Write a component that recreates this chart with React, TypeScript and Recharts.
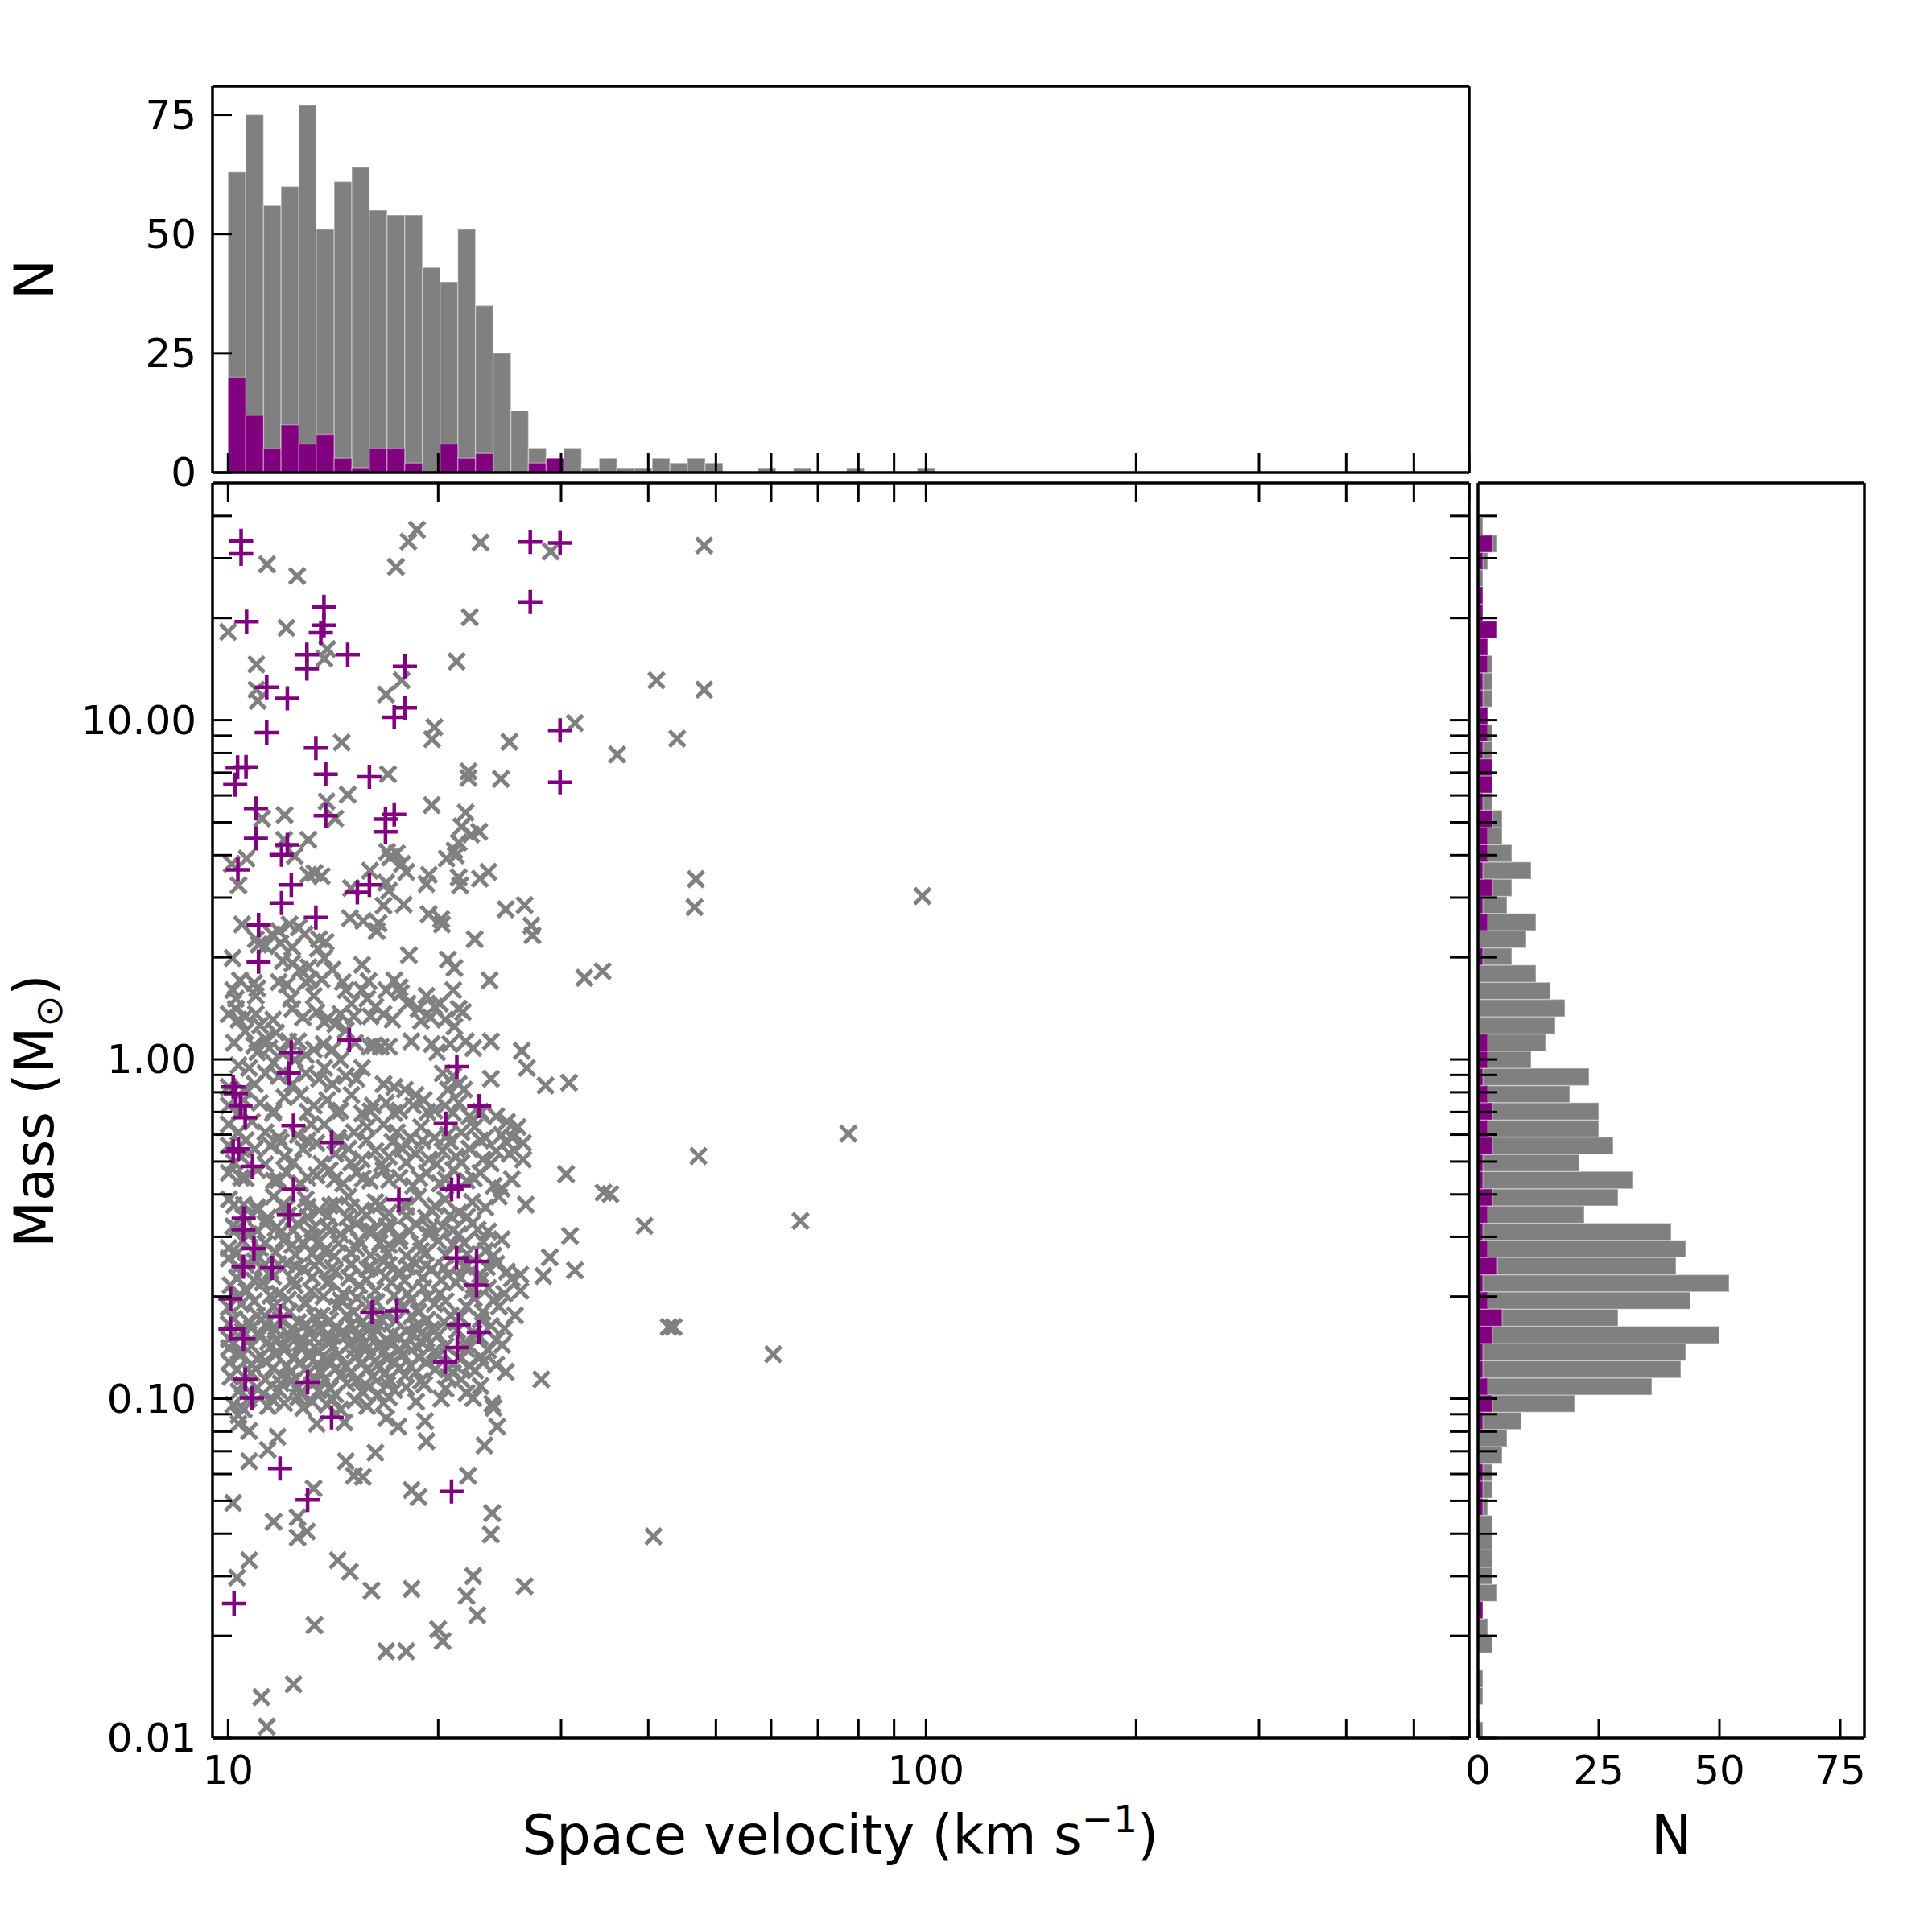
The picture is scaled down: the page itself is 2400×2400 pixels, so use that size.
import React from "react";
import { ScatterChart, Scatter, ComposedChart, ReferenceArea, XAxis, YAxis } from "recharts";

const GRAY = "#808080";
const PURPLE = "#800080";
const FONT = "'DejaVu Sans', Verdana, sans-serif";
const TICK_LEN = 24;
const TICK_W = 3;
const TICK_FS = 50;
const LABEL_FS = 67;
const axisStyle = { stroke: "#000", strokeWidth: 3.5 };

// panel boxes on the 2400x2400 page
const MAIN = { left: 264, right: 1825, top: 600, bottom: 2159 };
const TOP = { left: 264, right: 1825, top: 107, bottom: 587 };
const SIDE = { left: 1836, right: 2316, top: 600, bottom: 2159 };
// every axis takes 1px, so take it back from the margin
const margin = (b: any) => ({ left: b.left - 1, right: 2400 - b.right - 1, top: b.top - 1, bottom: 2400 - b.bottom - 1 });

// axes
const velDomain = [9.5, 600];
const massDomain = [0.01, 50];
const velTicks = [10, 20, 30, 40, 50, 60, 70, 80, 90, 100, 200, 300, 400, 500, 600];
const massTicks = [
  0.01, 0.02, 0.03, 0.04, 0.05, 0.06, 0.07, 0.08, 0.09,
  0.1, 0.2, 0.3, 0.4, 0.5, 0.6, 0.7, 0.8, 0.9,
  1, 2, 3, 4, 5, 6, 7, 8, 9, 10, 20, 30, 40,
];
const countTicks = [0, 25, 50, 75];
const velLabels: Record<string, string> = { "10": "10", "100": "100" };
const massLabels: Record<string, string> = { "0.01": "0.01", "0.1": "0.10", "1": "1.00", "10": "10.00" };
const countLabels: Record<string, string> = { "0": "0", "25": "25", "50": "50", "75": "75" };

// velocity histogram (top)
const velEdges = [
  10.0, 10.6, 11.24, 11.91, 12.63, 13.38, 14.19, 15.04, 15.94, 16.9, 17.91, 18.99, 20.13, 21.34,
  22.62, 23.98, 25.42, 26.94, 28.56, 30.27, 32.09, 34.02, 36.06, 38.22, 40.52, 42.95, 45.53,
  48.26, 51.16, 54.23, 57.48, 60.93, 64.59, 68.47, 72.58, 76.94, 81.55, 86.45, 91.64, 97.14, 102.97,
];
const velCountAll = [
  63, 75, 56, 60, 77, 51, 61, 64, 55, 54, 54, 43, 40, 51, 35, 25, 13, 5, 3, 5,
  1, 3, 1, 1, 3, 2, 3, 2, 0, 0, 1, 0, 1, 0, 0, 1, 0, 0, 0, 1,
];
const velCountSub = [
  20, 12, 5, 10, 6, 8, 3, 1, 5, 5, 2, 0, 6, 3, 4, 0, 0, 2, 3, 0,
  0, 0, 0, 0, 0, 0, 0, 0, 0, 0, 0, 0, 0, 0, 0, 0, 0, 0, 0, 0,
];

// mass histogram (right), bins from low to high mass
const massEdges = [
  0.00993, 0.01116, 0.01254, 0.01409, 0.01584, 0.0178, 0.02, 0.02248, 0.02526, 0.02838, 0.0319,
  0.03584, 0.04028, 0.04529, 0.05087, 0.05718, 0.06427, 0.07222, 0.08116, 0.09124, 0.1025,
  0.1152, 0.1295, 0.1455, 0.1635, 0.1837, 0.2065, 0.232, 0.2608, 0.2931, 0.3293, 0.3701,
  0.4159, 0.4675, 0.5253, 0.5903, 0.6634, 0.7455, 0.8379, 0.9417, 1.058, 1.189, 1.337, 1.502,
  1.688, 1.897, 2.132, 2.396, 2.692, 3.026, 3.4, 3.821, 4.295, 4.826, 5.424, 6.095, 6.849,
  7.697, 8.65, 9.721, 10.93, 12.28, 13.8, 15.51, 17.42, 19.58, 22.0, 24.73, 27.79, 31.23,
  35.1, 39.45,
];
const massCountAll = [
  1, 0, 1, 1, 0, 3, 2, 1, 4, 3, 3, 3, 3, 2, 3, 3, 5, 6, 9, 20, 36, 42, 43, 50, 29, 44, 52, 41,
  43, 40, 22, 29, 32, 21, 28, 25, 25, 19, 23, 11, 14, 16, 18, 15, 12, 7, 10, 12, 6, 7, 11, 7,
  5, 5, 3, 3, 3, 3, 3, 2, 3, 3, 3, 2, 4, 1, 1, 1, 2, 4, 1,
];
const massCountSub = [
  0, 0, 0, 0, 0, 0, 0, 1, 0, 0, 0, 0, 0, 1, 1, 1, 0, 0, 1, 3, 2, 1, 1, 3, 5, 2, 1, 4,
  2, 1, 2, 3, 1, 1, 3, 2, 3, 2, 1, 2, 2, 0, 0, 0, 0, 1, 0, 2, 1, 3, 1, 2, 2, 3, 1, 3,
  3, 1, 2, 2, 1, 1, 2, 2, 4, 1, 1, 0, 1, 3, 0,
];

// scatter: [velocity km/s, mass Msun]
const grayHigh = [
  [18.65, 36.4], [18.13, 33.6], [23.0, 33.4], [29.0, 31.4], [11.37, 28.8], [12.56, 26.6], [17.4, 28.3],
  [22.2, 20.1], [10.0, 18.2], [12.12, 18.7], [13.87, 16.2], [13.74, 15.2], [21.25, 14.9], [10.98, 14.6],
  [17.73, 13.1], [16.84, 11.9], [10.98, 12.3], [11.03, 11.4], [19.75, 9.54], [19.6, 8.79], [31.4, 9.8],
  [14.55, 8.6], [25.3, 8.63], [36.1, 7.92], [16.95, 6.93], [22.1, 7.06], [22.1, 6.75], [24.6, 6.71],
  [14.84, 6.03], [13.84, 5.76], [14.24, 5.13], [11.19, 5.13], [12.05, 5.25], [19.58, 5.62], [21.9, 5.34],
  [21.6, 4.86], [22.9, 4.69], [22.3, 4.6], [13.03, 4.44], [12.03, 4.44], [12.46, 3.98], [10.63, 3.91],
  [10.12, 3.77], [10.35, 3.26], [16.9, 4.09], [17.45, 4.05], [17.07, 3.94], [21.4, 4.36], [21.1, 4.13],
  [20.56, 3.91], [21.2, 3.99], [18.0, 3.57], [17.75, 3.77], [15.97, 3.6], [13.03, 3.5], [13.62, 3.47],
  [13.3, 3.54], [19.4, 3.5], [19.24, 3.29], [21.4, 3.44], [21.5, 3.26], [22.95, 3.41], [23.6, 3.57],
  [16.85, 3.32], [17.0, 3.14], [15.0, 3.2],
  [16.7, 2.84], [17.85, 2.86], [24.99, 2.77], [26.6, 2.85], [14.95, 2.61], [15.62, 2.56], [16.43, 2.52],
  [16.33, 2.39], [19.38, 2.68], [20.2, 2.59], [20.25, 2.5], [27.2, 2.48], [27.3, 2.32], [22.56, 2.26],
  [10.47, 2.5], [10.96, 2.26], [11.56, 2.34], [11.82, 2.39], [12.25, 2.5], [12.63, 2.45], [12.87, 2.34],
  [13.5, 2.26], [13.8, 2.22], [13.45, 2.12], [12.36, 2.14], [11.88, 2.2], [11.31, 2.16], [10.15, 1.99],
  [11.06, 2.18], [15.56, 1.9], [18.16, 2.03], [20.65, 1.97], [21.1, 1.86], [23.7, 1.71], [32.4, 1.74],
  [34.4, 1.82], [11.98, 1.95], [12.36, 1.92], [12.69, 1.84], [13.04, 1.87], [13.74, 1.99], [14.11, 1.84],
  [13.62, 1.72], [11.82, 1.69], [12.14, 1.66], [12.92, 1.69], [17.3, 1.71], [17.61, 1.63],
];

const grayCore = [
  [10.17, 1.6], [10.26, 1.51], [10.96, 1.54], [11.01, 1.62], [10.02, 1.36], [10.26, 1.41], [10.35, 1.31],
  [10.58, 1.21], [10.96, 1.36], [11.11, 1.26], [12.3, 1.51], [12.36, 1.41], [13.27, 1.54], [13.39, 1.38],
  [13.74, 1.29], [14.24, 1.27], [14.75, 1.6], [15.02, 1.46], [15.56, 1.6], [15.83, 1.51], [16.26, 1.43],
  [16.7, 1.36], [16.85, 1.6], [17.69, 1.57], [18.08, 1.46], [18.74, 1.41], [18.9, 1.3], [19.24, 1.54],
  [19.76, 1.43], [20.11, 1.46], [20.47, 1.31], [21.02, 1.6], [21.4, 1.41], [21.7, 1.38], [21.1, 1.25],
  [14.49, 1.36], [14.75, 1.22], [15.15, 1.34],
  [11.72, 1.2], [11.31, 1.15], [11.01, 1.05], [11.46, 1.08], [11.93, 1.05], [12.2, 1.13], [10.35, 0.961],
  [10.72, 0.943], [11.62, 0.978], [11.31, 0.91], [12.47, 0.996], [12.92, 1.03], [13.27, 1.07], [13.74, 0.943],
  [14.11, 1.07], [14.49, 0.996], [15.56, 0.943], [15.97, 1.09], [16.55, 1.09], [17.0, 1.09], [19.58, 1.11],
  [19.93, 1.05], [21.9, 1.13], [22.45, 1.08], [23.8, 1.13], [26.35, 1.06], [26.8, 0.943], [28.5, 0.838],
  [30.8, 0.854], [23.8, 0.877], [20.29, 0.91], [21.02, 0.893], [16.7, 0.846], [17.3, 0.83], [17.92, 0.815],
  [18.57, 0.786], [20.65, 0.815], [21.4, 0.846], [21.78, 0.815], [15.28, 0.877], [14.75, 0.893], [14.11, 0.846],
  [13.5, 0.877], [12.92, 0.91], [12.36, 0.846], [11.82, 0.893], [10.92, 0.846], [10.53, 0.815], [10.02, 0.83],
  [10.02, 0.731], [10.53, 0.759], [11.11, 0.745], [11.62, 0.706], [12.04, 0.773], [12.69, 0.786], [13.27, 0.731],
  [13.87, 0.759], [14.49, 0.706], [15.02, 0.786], [15.56, 0.693], [16.12, 0.731], [16.85, 0.745], [17.61, 0.706],
  [18.41, 0.731], [19.07, 0.759], [19.76, 0.706], [20.47, 0.731], [21.4, 0.745], [22.17, 0.68], [22.97, 0.693],
  [24.22, 0.68], [25.1, 0.655], [26.0, 0.632], [10.02, 0.644], [10.35, 0.61], [10.82, 0.655], [11.31, 0.61],
  [11.82, 0.588], [12.58, 0.599], [13.15, 0.644], [13.74, 0.644], [14.37, 0.588], [15.15, 0.61], [15.83, 0.632],
  [16.7, 0.644], [17.45, 0.61], [18.24, 0.588], [18.9, 0.632], [19.76, 0.588], [20.65, 0.599], [21.59, 0.61],
  [22.56, 0.632], [23.38, 0.588], [24.66, 0.599], [25.55, 0.588], [26.47, 0.567],
  [10.02, 0.557], [10.44, 0.517], [10.92, 0.545], [11.51, 0.557], [12.04, 0.517], [12.81, 0.545], [13.39, 0.567],
  [14.24, 0.527], [14.88, 0.546], [15.56, 0.507], [16.26, 0.537], [17.0, 0.517], [17.77, 0.546], [18.57, 0.527],
  [19.41, 0.507], [20.29, 0.537], [21.21, 0.517], [22.17, 0.546], [23.17, 0.507], [24.22, 0.537], [25.32, 0.527],
  [26.47, 0.507], [30.5, 0.459], [35.3, 0.401], [34.5, 0.405], [26.7, 0.373], [10.02, 0.463], [10.44, 0.448],
  [11.01, 0.472], [11.62, 0.439], [12.14, 0.463], [12.69, 0.431], [13.39, 0.455], [13.99, 0.472], [14.62, 0.431],
  [15.28, 0.463], [15.97, 0.439], [16.7, 0.472], [17.61, 0.448], [18.41, 0.424], [19.24, 0.463], [20.11, 0.431],
  [21.02, 0.472], [21.97, 0.439], [22.97, 0.463], [24.01, 0.424], [24.66, 0.416],
  [10.03, 0.387], [10.53, 0.373], [11.01, 0.359], [11.62, 0.394], [12.14, 0.366], [12.92, 0.387], [13.5, 0.359],
  [14.24, 0.373], [14.88, 0.394], [15.56, 0.359], [16.26, 0.38], [17.0, 0.353], [17.92, 0.373], [18.74, 0.394],
  [19.58, 0.359], [20.47, 0.387], [21.4, 0.353], [22.37, 0.38], [23.38, 0.366], [24.44, 0.394], [10.17, 0.322],
  [10.72, 0.305], [11.31, 0.328], [11.93, 0.311], [12.58, 0.328], [13.15, 0.3], [13.87, 0.322], [14.49, 0.305],
  [15.28, 0.328], [16.12, 0.311], [16.85, 0.322], [17.61, 0.3], [18.57, 0.328], [19.41, 0.305], [20.29, 0.322],
  [21.4, 0.305], [22.37, 0.328], [23.59, 0.311], [24.66, 0.295], [30.9, 0.302], [10.02, 0.278], [11.11, 0.278],
  [12.36, 0.284], [13.74, 0.273], [15.28, 0.278], [17.0, 0.284], [18.9, 0.273], [21.02, 0.284], [23.38, 0.273],
  [28.9, 0.261],
  [10.02, 0.259], [10.35, 0.245], [10.92, 0.254], [11.51, 0.237], [12.14, 0.25], [12.81, 0.241], [13.5, 0.254],
  [14.24, 0.237], [15.02, 0.25], [15.83, 0.241], [16.7, 0.254], [17.61, 0.237], [18.57, 0.25], [19.58, 0.241],
  [20.65, 0.232], [21.78, 0.245], [22.97, 0.232], [24.22, 0.25], [25.1, 0.237], [26.23, 0.232], [28.3, 0.23],
  [31.4, 0.239], [10.08, 0.216], [10.63, 0.208], [11.21, 0.22], [11.82, 0.204], [12.47, 0.216], [13.15, 0.208],
  [13.87, 0.22], [14.62, 0.204], [15.42, 0.216], [16.26, 0.208], [17.15, 0.22], [18.08, 0.204], [19.07, 0.212],
  [20.11, 0.204], [21.21, 0.22], [22.37, 0.208], [23.59, 0.212], [24.88, 0.204], [26.23, 0.208], [10.02, 0.186],
  [10.44, 0.19], [11.01, 0.176], [11.62, 0.187], [12.25, 0.18], [12.92, 0.19], [13.62, 0.176], [14.37, 0.187],
  [15.15, 0.18], [15.97, 0.19], [16.85, 0.176], [17.77, 0.187], [18.74, 0.18], [19.76, 0.19], [20.84, 0.176],
  [21.97, 0.187], [23.17, 0.18], [24.44, 0.187], [25.77, 0.176],
];

// the crowded core, read between the rows above
const grayCoreFill = [
  [10.3, 0.199], [10.9, 0.194], [11.5, 0.201], [12.2, 0.196], [12.9, 0.192], [13.7, 0.2], [14.5, 0.195],
  [15.3, 0.198], [16.3, 0.193], [17.3, 0.201], [18.3, 0.196], [19.3, 0.199], [20.5, 0.194], [22.5, 0.198],
  [24.0, 0.195],
  [10.2, 0.172], [10.7, 0.169], [11.3, 0.175], [11.9, 0.171], [12.6, 0.168], [13.3, 0.174], [14.0, 0.17],
  [14.8, 0.176], [15.6, 0.169], [16.5, 0.173], [17.4, 0.17], [18.3, 0.175], [19.3, 0.171], [20.4, 0.168],
  [21.5, 0.174], [23.0, 0.171],
  [10.5, 0.158], [11.0, 0.155], [11.7, 0.159], [12.5, 0.156], [13.1, 0.16], [13.9, 0.155], [14.6, 0.158],
  [15.4, 0.156], [16.3, 0.16], [17.2, 0.155], [18.0, 0.158], [19.0, 0.157], [20.0, 0.154], [21.3, 0.159],
  [22.5, 0.156],
  [10.2, 0.146], [10.8, 0.143], [11.4, 0.147], [12.0, 0.144], [12.7, 0.146], [13.3, 0.142], [14.0, 0.147],
  [14.9, 0.144], [15.7, 0.146], [16.4, 0.143], [17.0, 0.147], [18.0, 0.144], [19.0, 0.146], [20.5, 0.143],
  [22.0, 0.145], [24.7, 0.144],
  [10.4, 0.134], [11.0, 0.131], [11.7, 0.135], [12.4, 0.132], [13.1, 0.134], [13.8, 0.13], [14.4, 0.135],
  [15.2, 0.132], [16.0, 0.134], [16.9, 0.131], [17.8, 0.135], [18.8, 0.132], [20.0, 0.134], [21.5, 0.131],
  [23.0, 0.133],
  [10.3, 0.122], [10.8, 0.119], [11.6, 0.123], [12.3, 0.12], [12.9, 0.122], [13.6, 0.119], [14.3, 0.123],
  [15.0, 0.12], [15.8, 0.122], [16.8, 0.119], [17.6, 0.123], [18.6, 0.12], [19.8, 0.122], [21.0, 0.119],
  [22.6, 0.121], [25.0, 0.12],
  [10.5, 0.11], [11.0, 0.108], [11.9, 0.111], [12.6, 0.108], [13.2, 0.11], [14.0, 0.107], [14.8, 0.111],
  [15.9, 0.108], [16.9, 0.11], [18.0, 0.108], [19.1, 0.11], [20.5, 0.107], [23.0, 0.109],
  [10.7, 0.1], [11.6, 0.099], [12.6, 0.101], [13.2, 0.098], [14.1, 0.1], [15.2, 0.099], [17.0, 0.101],
  [18.6, 0.098], [20.2, 0.1],
  [10.3, 0.227], [10.9, 0.223], [11.6, 0.229], [12.4, 0.224], [13.2, 0.228], [14.0, 0.222], [14.9, 0.227],
  [15.8, 0.224], [16.8, 0.229], [17.9, 0.223], [19.0, 0.227], [20.2, 0.224], [21.5, 0.228], [23.0, 0.223],
  [25.5, 0.226],
  [10.6, 0.248], [11.2, 0.244], [11.8, 0.249], [12.5, 0.245], [13.3, 0.247], [14.1, 0.243], [15.0, 0.248],
  [16.0, 0.244], [17.0, 0.248], [18.1, 0.245], [19.2, 0.247], [20.4, 0.243], [22.0, 0.247], [23.5, 0.244],
  [10.3, 0.268], [11.0, 0.264], [11.7, 0.27], [12.5, 0.265], [13.2, 0.268], [14.2, 0.263], [15.0, 0.269],
  [16.0, 0.265], [16.9, 0.268], [18.0, 0.264], [19.2, 0.269], [20.5, 0.265], [22.0, 0.267], [24.0, 0.264],
  [10.5, 0.292], [11.3, 0.287], [12.0, 0.293], [12.8, 0.288], [13.5, 0.291], [14.4, 0.287], [15.4, 0.292],
  [16.5, 0.288], [17.6, 0.291], [18.8, 0.287], [20.0, 0.292], [21.8, 0.288], [23.2, 0.29],
  [10.3, 0.317], [11.0, 0.312], [11.7, 0.318], [12.4, 0.313], [13.2, 0.316], [14.0, 0.312], [14.9, 0.317],
  [15.9, 0.313], [17.0, 0.316], [18.2, 0.312], [19.5, 0.317], [21.0, 0.313], [22.8, 0.315],
  [10.5, 0.347], [11.4, 0.342], [12.2, 0.348], [13.0, 0.343], [13.9, 0.346], [14.8, 0.342], [15.8, 0.347],
  [16.8, 0.343], [18.0, 0.346], [19.2, 0.342], [20.8, 0.347], [22.0, 0.344],
  [10.2, 0.372], [11.0, 0.367], [12.0, 0.373], [13.0, 0.368], [14.0, 0.371], [15.0, 0.367], [16.5, 0.372],
  [18.0, 0.368], [19.8, 0.37],
  [10.6, 0.447], [11.8, 0.441], [13.0, 0.448], [14.2, 0.442], [15.6, 0.446], [17.0, 0.441], [18.8, 0.447],
  [20.5, 0.442], [22.5, 0.446], [25.5, 0.443],
  [10.2, 0.497], [11.3, 0.491], [12.4, 0.498], [13.6, 0.492], [15.0, 0.496], [16.6, 0.491], [18.0, 0.497],
  [19.9, 0.492], [21.6, 0.496], [23.8, 0.493],
  [10.6, 0.578], [11.9, 0.571], [13.0, 0.577], [14.4, 0.572], [15.8, 0.578], [17.2, 0.571], [19.0, 0.576],
  [20.8, 0.572], [23.0, 0.577], [25.0, 0.573],
  [10.4, 0.702], [11.6, 0.695], [13.0, 0.701], [14.3, 0.696], [16.0, 0.703], [17.3, 0.695], [19.3, 0.7],
  [21.0, 0.696], [23.0, 0.701],
  [10.2, 1.12], [10.9, 1.1], [12.6, 1.13], [13.7, 1.11], [15.2, 1.12], [16.2, 1.1], [18.3, 1.13], [20.8, 1.11],
  [10.6, 1.34], [11.6, 1.31], [12.8, 1.33], [13.9, 1.32], [16.0, 1.34], [17.2, 1.31], [19.5, 1.33],
  [10.4, 1.71], [10.9, 1.68], [13.1, 1.72], [14.6, 1.69], [15.9, 1.7],
];

const grayLow = [
  [10.02, 0.166], [10.82, 0.162], [11.31, 0.165], [12.36, 0.161], [12.92, 0.166], [13.5, 0.163], [14.24, 0.16],
  [15.02, 0.165], [15.69, 0.162], [16.4, 0.166], [18.57, 0.163], [19.58, 0.16], [23.8, 0.164], [24.88, 0.161],
  [10.03, 0.15], [11.11, 0.153], [11.72, 0.149], [12.25, 0.154], [13.27, 0.151], [13.87, 0.148], [14.75, 0.153],
  [15.42, 0.15], [16.12, 0.154], [16.85, 0.149], [17.61, 0.152], [18.41, 0.155], [19.24, 0.15], [22.97, 0.152],
  [24.22, 0.149], [10.03, 0.141], [10.35, 0.138], [11.51, 0.142], [12.04, 0.139], [12.69, 0.141], [13.5, 0.138],
  [14.11, 0.142], [15.15, 0.139], [15.83, 0.141], [16.7, 0.137], [17.61, 0.14], [18.57, 0.143], [19.76, 0.138],
  [21.97, 0.14], [23.59, 0.139], [10.04, 0.128], [10.82, 0.126], [11.31, 0.129], [12.14, 0.125], [12.69, 0.128],
  [13.39, 0.126], [13.99, 0.129], [14.75, 0.125], [15.56, 0.128], [16.4, 0.126], [17.3, 0.129], [18.24, 0.125],
  [19.24, 0.128], [21.02, 0.127], [22.17, 0.125], [23.17, 0.128], [24.22, 0.126], [10.08, 0.116], [11.31, 0.114],
  [11.93, 0.117], [12.36, 0.113], [13.27, 0.116], [13.74, 0.114], [14.49, 0.117], [15.28, 0.113], [16.12, 0.116],
  [17.0, 0.114], [17.92, 0.117], [18.9, 0.113], [20.65, 0.116], [21.59, 0.114], [10.35, 0.105], [11.21, 0.103],
  [11.82, 0.106], [12.69, 0.104], [13.5, 0.106], [14.24, 0.103], [15.56, 0.105], [16.4, 0.103], [17.3, 0.106],
  [21.97, 0.104], [10.17, 0.096], [10.53, 0.093], [11.41, 0.095], [12.04, 0.097], [12.81, 0.094], [13.87, 0.096],
  [14.49, 0.093], [15.83, 0.095], [16.7, 0.097], [24.01, 0.094],
  [28.1, 0.114], [22.45, 0.1004], [23.9, 0.0966], [24.3, 0.0827], [23.3, 0.0728], [22.07, 0.0593], [19.15, 0.0859],
  [19.24, 0.0749], [17.53, 0.0827], [16.85, 0.0876], [16.26, 0.0693], [14.75, 0.0654], [15.15, 0.0593],
  [15.6, 0.0588], [18.32, 0.0538], [18.75, 0.0513], [13.26, 0.0544], [11.62, 0.0434], [12.58, 0.0447],
  [12.97, 0.0406], [12.58, 0.039], [10.17, 0.0493], [10.72, 0.0654], [11.77, 0.0772], [11.4, 0.0707],
  [10.72, 0.0334], [10.3, 0.0297], [14.36, 0.0334], [14.95, 0.0309], [16.05, 0.0272], [18.32, 0.0275],
  [22.45, 0.03], [21.96, 0.0262], [22.75, 0.023], [26.6, 0.028], [23.9, 0.046], [23.8, 0.0398], [13.3, 0.0215],
  [20.0, 0.0209], [20.3, 0.0193], [16.85, 0.018], [18.0, 0.018], [12.41, 0.0144], [11.16, 0.0132],
  [11.36, 0.0108], [10.35, 0.0843], [10.72, 0.0803], [13.4, 0.0843], [14.68, 0.0851], [10.35, 0.0893],
];

const grayFast = [
  [48.1, 32.7], [41.1, 13.1], [48.1, 12.3], [44.0, 8.82], [46.8, 3.4], [46.6, 2.81], [98.8, 3.03],
  [39.5, 0.323], [47.2, 0.519], [77.4, 0.604], [66.1, 0.334], [42.8, 0.1626], [43.5, 0.1626],
  [60.4, 0.1353], [40.7, 0.0393],
];

const purplePts = [
  [10.44, 33.8], [10.44, 30.9], [27.1, 33.5], [29.9, 33.3], [27.1, 22.3], [13.72, 21.6], [10.63, 19.5],
  [13.72, 19.05], [13.58, 18.1], [12.97, 15.6], [14.84, 15.6], [12.97, 14.2], [17.92, 14.4], [11.36, 12.5],
  [12.16, 11.6], [17.92, 10.87], [17.3, 10.2], [11.36, 9.19], [29.9, 9.33], [13.36, 8.27], [10.61, 7.28],
  [10.32, 7.26], [10.24, 6.45], [13.8, 6.93], [15.94, 6.81], [29.9, 6.56], [10.96, 5.49], [13.8, 5.23],
  [17.3, 5.27], [16.81, 5.11], [16.81, 4.69], [10.96, 4.48], [12.16, 4.29], [11.93, 4.01], [10.33, 3.62],
  [12.32, 3.27], [15.94, 3.27], [15.32, 3.11], [11.93, 2.89],
  [11.06, 2.49], [13.36, 2.62], [11.06, 1.94], [14.92, 1.14], [12.32, 1.05], [12.22, 0.91], [10.17, 0.83],
  [10.26, 0.793], [10.42, 0.731], [10.58, 0.674], [12.41, 0.638], [14.07, 0.569], [10.17, 0.536],
  [10.35, 0.545], [10.84, 0.484], [21.27, 0.952], [22.9, 0.729], [20.5, 0.647], [12.41, 0.414], [20.9, 0.414],
  [21.4, 0.423], [17.57, 0.386], [12.22, 0.348], [10.53, 0.34], [10.52, 0.315], [10.89, 0.277], [10.52, 0.245],
  [11.56, 0.243], [21.25, 0.26], [22.7, 0.254], [22.7, 0.216], [10.08, 0.197], [11.87, 0.175], [16.09, 0.18],
  [17.45, 0.1815],
  [10.08, 0.1606], [10.52, 0.15], [21.4, 0.1654], [22.87, 0.157], [21.3, 0.1415], [20.46, 0.1283],
  [10.58, 0.1141], [13.0, 0.1119], [10.82, 0.1006], [14.07, 0.0881], [11.87, 0.0623], [13.0, 0.0503],
  [20.9, 0.0533], [10.2, 0.0249],
];

const toObj = (arr: number[][]) => arr.map(([v, m]) => ({ v, m }));
const grayData = toObj([...grayHigh, ...grayCore, ...grayCoreFill, ...grayLow, ...grayFast]);
const purpleData = toObj(purplePts);

// markers
const XMark = (p: any) => {
  const { cx, cy } = p;
  const r = 9.8;
  return (
    <path
      d={`M${cx - r},${cy - r}L${cx + r},${cy + r}M${cx - r},${cy + r}L${cx + r},${cy - r}`}
      stroke={GRAY}
      strokeWidth={5}
      fill="none"
    />
  );
};
const PlusMark = (p: any) => {
  const { cx, cy } = p;
  const r = 15;
  return (
    <path d={`M${cx - r},${cy}L${cx + r},${cy}M${cx},${cy - r}L${cx},${cy + r}`} stroke={PURPLE} strokeWidth={4.5} fill="none" />
  );
};

// inward ticks
const txt = { fontFamily: FONT, fontSize: TICK_FS, fill: "#000" };
const bottomTick = (labels?: Record<string, string>) => (p: any) => {
  const lab = labels ? labels[String(p.payload.value)] : undefined;
  return (
    <g>
      <line x1={p.x} x2={p.x} y1={p.y} y2={p.y - TICK_LEN} stroke="#000" strokeWidth={TICK_W} />
      {lab && (
        <text x={p.x} y={p.y + 57} textAnchor="middle" {...txt}>
          {lab}
        </text>
      )}
    </g>
  );
};
const topTick = (p: any) => (
  <line x1={p.x} x2={p.x} y1={p.y} y2={p.y + TICK_LEN} stroke="#000" strokeWidth={TICK_W} />
);
const leftTick = (labels?: Record<string, string>) => (p: any) => {
  const lab = labels ? labels[String(p.payload.value)] : undefined;
  return (
    <g>
      <line x1={p.x} x2={p.x + TICK_LEN} y1={p.y} y2={p.y} stroke="#000" strokeWidth={TICK_W} />
      {lab && (
        <text x={p.x - 20} y={p.y + 17} textAnchor="end" {...txt}>
          {lab}
        </text>
      )}
    </g>
  );
};
const rightTick = (p: any) => (
  <line x1={p.x} x2={p.x - TICK_LEN} y1={p.y} y2={p.y} stroke="#000" strokeWidth={TICK_W} />
);

const common = { tickSize: 0, tickMargin: 0, tickLine: false, axisLine: axisStyle, interval: 0 as const, allowDataOverflow: true };
const abs: React.CSSProperties = { position: "absolute", left: 0, top: 0 };
const barEdge = "rgba(255,255,255,0.35)";

const velBins = velCountAll.map((n, i) => ({ lo: velEdges[i], hi: velEdges[i + 1], n, s: velCountSub[i] }));
const massBins = massCountAll.map((n, i) => ({ lo: massEdges[i], hi: massEdges[i + 1], n, s: massCountSub[i] }));

function MainPanel() {
  return (
    <div style={abs}>
      <ScatterChart width={2400} height={2400} margin={margin(MAIN)}>
        <Scatter xAxisId="b" yAxisId="l" data={grayData} shape={XMark} isAnimationActive={false} />
        <Scatter xAxisId="b" yAxisId="l" data={purpleData} shape={PlusMark} isAnimationActive={false} />
        <XAxis xAxisId="b" orientation="bottom" type="number" dataKey="v" scale="log" domain={velDomain} ticks={velTicks} height={1} tick={bottomTick(velLabels)} {...common} />
        <XAxis xAxisId="t" orientation="top" type="number" dataKey="v" scale="log" domain={velDomain} ticks={velTicks} height={1} tick={topTick} {...common} />
        <YAxis yAxisId="l" orientation="left" type="number" dataKey="m" scale="log" domain={massDomain} ticks={massTicks} width={1} tick={leftTick(massLabels)} {...common} />
        <YAxis yAxisId="r" orientation="right" type="number" dataKey="m" scale="log" domain={massDomain} ticks={massTicks} width={1} tick={rightTick} {...common} />
      </ScatterChart>
    </div>
  );
}

function TopPanel() {
  return (
    <div style={abs}>
      <ComposedChart width={2400} height={2400} margin={margin(TOP)} data={velBins}>
        {velBins.map((b, i) =>
          b.n > 0 ? (
            <ReferenceArea key={`g${i}`} xAxisId="b" yAxisId="l" x1={b.lo} x2={b.hi} y1={0} y2={b.n} fill={GRAY} fillOpacity={1} stroke={barEdge} strokeWidth={1.5} ifOverflow="hidden" />
          ) : null
        )}
        {velBins.map((b, i) =>
          b.s > 0 ? (
            <ReferenceArea key={`p${i}`} xAxisId="b" yAxisId="l" x1={b.lo} x2={b.hi} y1={0} y2={b.s} fill={PURPLE} fillOpacity={1} stroke={barEdge} strokeWidth={1.5} ifOverflow="hidden" />
          ) : null
        )}
        <XAxis xAxisId="b" orientation="bottom" type="number" dataKey="lo" scale="log" domain={velDomain} ticks={velTicks} height={1} tick={bottomTick()} {...common} />
        <XAxis xAxisId="t" orientation="top" type="number" dataKey="lo" scale="log" domain={velDomain} height={1} tick={false} {...common} />
        <YAxis yAxisId="l" orientation="left" type="number" dataKey="n" domain={[0, 81]} ticks={countTicks} width={1} tick={leftTick(countLabels)} {...common} />
        <YAxis yAxisId="r" orientation="right" type="number" dataKey="n" domain={[0, 81]} width={1} tick={false} {...common} />
      </ComposedChart>
    </div>
  );
}

function SidePanel() {
  return (
    <div style={abs}>
      <ComposedChart width={2400} height={2400} margin={margin(SIDE)} data={massBins}>
        {massBins.map((b, i) =>
          b.n > 0 ? (
            <ReferenceArea key={`g${i}`} xAxisId="b" yAxisId="l" x1={0} x2={b.n} y1={b.lo} y2={b.hi} fill={GRAY} fillOpacity={1} stroke={barEdge} strokeWidth={1.5} ifOverflow="hidden" />
          ) : null
        )}
        {massBins.map((b, i) =>
          b.s > 0 ? (
            <ReferenceArea key={`p${i}`} xAxisId="b" yAxisId="l" x1={0} x2={b.s} y1={b.lo} y2={b.hi} fill={PURPLE} fillOpacity={1} stroke={barEdge} strokeWidth={1.5} ifOverflow="hidden" />
          ) : null
        )}
        <XAxis xAxisId="b" orientation="bottom" type="number" dataKey="n" domain={[0, 80]} ticks={countTicks} height={1} tick={bottomTick(countLabels)} {...common} />
        <XAxis xAxisId="t" orientation="top" type="number" dataKey="n" domain={[0, 80]} height={1} tick={false} {...common} />
        <YAxis yAxisId="l" orientation="left" type="number" dataKey="lo" scale="log" domain={massDomain} ticks={massTicks} width={1} tick={leftTick()} {...common} />
        <YAxis yAxisId="r" orientation="right" type="number" dataKey="lo" scale="log" domain={massDomain} width={1} tick={false} {...common} />
      </ComposedChart>
    </div>
  );
}

function Labels() {
  const t = { fontFamily: FONT, fontSize: LABEL_FS, fill: "#000" };
  return (
    <svg width={2400} height={2400} style={{ ...abs, pointerEvents: "none" }}>
      <text x={1044} y={2303} textAnchor="middle" {...t}>
        Space velocity (km s<tspan dy={-27} fontSize={47}>−1</tspan>
        <tspan dy={27}>)</tspan>
      </text>
      <text x={2076} y={2303} textAnchor="middle" {...t}>
        N
      </text>
      <text transform="translate(66,347) rotate(-90)" textAnchor="middle" {...t}>
        N
      </text>
      <text transform="translate(66,1380) rotate(-90)" textAnchor="middle" {...t}>
        Mass (M<tspan dy={11} fontSize={47}>⊙</tspan>
        <tspan dy={-11}>)</tspan>
      </text>
    </svg>
  );
}

export default function App() {
  return (
    <div style={{ ...abs, width: 2400, height: 2400, background: "#fff" }}>
      <TopPanel />
      <SidePanel />
      <MainPanel />
      <Labels />
    </div>
  );
}
